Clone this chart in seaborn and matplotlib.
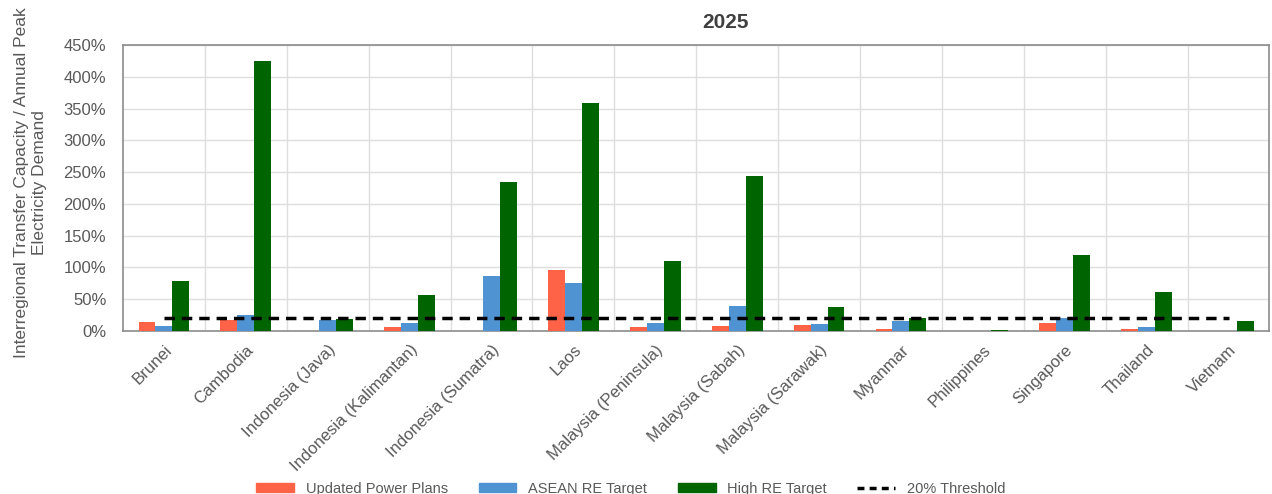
import matplotlib.pyplot as plt
import matplotlib.ticker as mticker
import pandas as pd
import seaborn as sns

countries = ["Brunei", "Cambodia", "Indonesia (Java)", "Indonesia (Kalimantan)",
             "Indonesia (Sumatra)", "Laos", "Malaysia (Peninsula)", "Malaysia (Sabah)",
             "Malaysia (Sarawak)", "Myanmar", "Philippines", "Singapore", "Thailand", "Vietnam"]
updated_plans = [14, 18, 0, 6, 0, 96, 6, 8, 9, 3, 0, 12, 3, 0]
asean_re = [8, 25, 18, 12, 86, 75, 12, 40, 11, 15, 0, 21, 6, 0]
high_re = [79, 425, 19, 56, 234, 358, 110, 244, 38, 20, 2, 120, 61, 15]
threshold = [20] * len(countries)
series = ["Updated Power Plans", "ASEAN RE Target", "High RE Target"]
colors = ["#FF6347", "#4F93D2", "#006400"]

df = pd.DataFrame({"Country": countries, series[0]: updated_plans,
                   series[1]: asean_re, series[2]: high_re})
long = df.melt(id_vars="Country", var_name="Scenario", value_name="Value")
thr = pd.DataFrame({"pos": range(len(countries)), "Value": threshold})

sns.set_style("white")
plt.rcParams["font.family"] = ["Liberation Sans", "DejaVu Sans"]
grey = "#595959"

fig = plt.figure(figsize=(12.72, 4.94), dpi=100)
ax = fig.add_axes([0.0967, 0.330, 0.9013, 0.579])

sns.barplot(long, x="Country", y="Value", hue="Scenario", hue_order=series,
            palette=colors, saturation=1, width=0.62, gap=0, linewidth=0,
            ax=ax, legend=False, zorder=3)
sns.lineplot(thr, x="pos", y="Value", color="black", linestyle=(0, (3, 2)),
             linewidth=2.5, ax=ax, zorder=4)

ax.set_xlim(-0.5, len(countries) - 0.5)
ax.set_ylim(0, 450)
ax.yaxis.set_major_locator(mticker.MultipleLocator(50))
ax.yaxis.set_major_formatter(mticker.FuncFormatter(lambda v, _: f"{int(v)}%"))
ax.xaxis.set_minor_locator(mticker.FixedLocator([i + 0.5 for i in range(len(countries) - 1)]))
ax.grid(axis="y", which="major", color="#dedede", linewidth=1, zorder=0)
ax.grid(axis="x", which="minor", color="#dedede", linewidth=1, zorder=0)
ax.set_axisbelow(True)
for s in ax.spines.values():
    s.set_color("#8c8c8c")
    s.set_linewidth(1.2)

ax.set_xticks(range(len(countries)))
ax.set_xticklabels(countries, rotation=45, ha="right", rotation_mode="anchor",
                   fontsize=12, color=grey)
ax.tick_params(axis="y", labelsize=12, colors=grey, length=0, pad=12)
ax.tick_params(axis="x", length=0, pad=8)
ax.set_xlabel("")
ax.set_ylabel("")

fig.text(0.024, 0.630, "Interregional Transfer Capacity / Annual Peak\nElectricity Demand",
         rotation=90, ha="center", va="center", fontsize=12.5, color=grey,
         multialignment="center", linespacing=1.2)
fig.text(0.570, 0.955, "2025", ha="center", va="center", fontsize=15,
         fontweight="bold", color="#404040")

handles = [plt.Rectangle((0, 0), 1, 1, color=c) for c in colors]
handles.append(plt.Line2D([0], [0], color="black", linestyle=(0, (2, 1.5)), linewidth=2.5))
fig.legend(handles, series + ["20% Threshold"], loc="lower center",
           bbox_to_anchor=(0.496, -0.03), ncol=4, frameon=False, fontsize=10.5,
           handlelength=2.6, handleheight=0.6, columnspacing=2.1,
           labelcolor=grey)

plt.savefig("out.png", dpi=100)
